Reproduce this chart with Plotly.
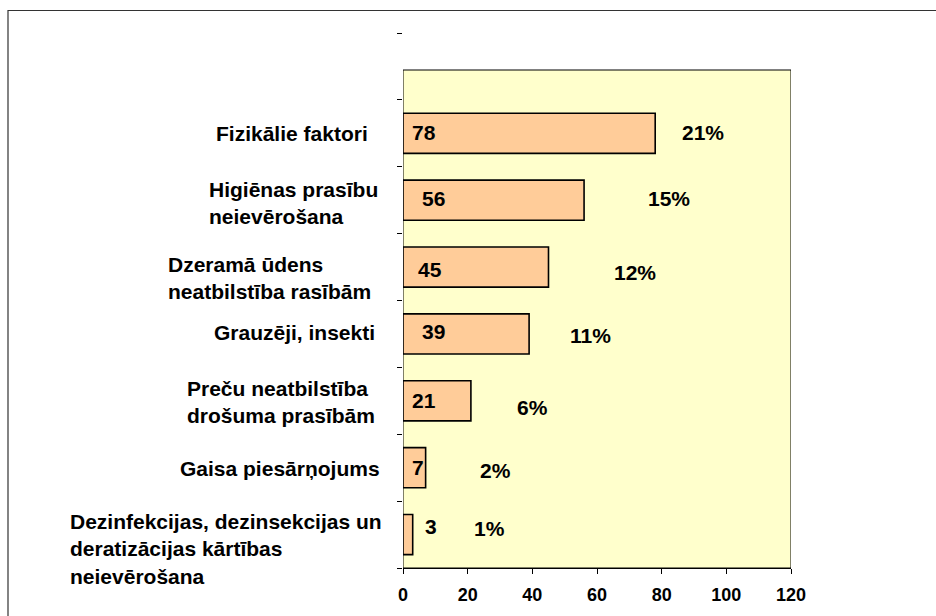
import plotly.graph_objects as go

# Data: counts per category (bottom to top) and their share of all cases
categories = [
    "Dezinfekcijas, dezinsekcijas un<br>deratizācijas kārtības<br>neievērošana",
    "Gaisa piesārņojums",
    "Preču neatbilstība<br>drošuma prasībām",
    "Grauzēji, insekti",
    "Dzeramā ūdens<br>neatbilstība rasībām",
    "Higiēnas prasību<br>neievērošana",
    "Fizikālie faktori",
]
counts = [3, 7, 21, 39, 45, 56, 78]
shares = [1, 2, 6, 11, 12, 15, 21]
x_ticks = [0, 20, 40, 60, 80, 100, 120]

# Page geometry (pixels)
W, H = 936, 616
PLOT_L, PLOT_R = 403, 791
PLOT_T, PLOT_B = 33, 568          # extent of the category axis (8 slots)
FRAME_T = 70                      # top of the shaded plot frame
X_MAX = 120
N_SLOTS = 8

px_per_unit = (PLOT_R - PLOT_L) / X_MAX
slot_px = (PLOT_B - PLOT_T) / N_SLOTS


def px_to_paper_x(px):
    return (px - PLOT_L) / (PLOT_R - PLOT_L)


def py_to_paper_y(py):
    return (PLOT_B - py) / (PLOT_B - PLOT_T)


def py_to_y(py):
    return -0.5 + (PLOT_B - py) / slot_px


# Label placement (left edge in px, vertical nudge in px)
cat_label_left = [68, 178, 185, 212, 166, 207, 214]
cat_label_shift = [-14, -1, -1, 1, -11, -3, 0]
count_label_x = [6.2, 2.2, 2.2, 5.3, 4.0, 5.3, 2.2]
count_label_shift = [8, 0, 0, 2, -2, 2, 1]
share_label_x = [21.3, 23.2, 34.6, 51.1, 64.6, 75.2, 85.8]
share_label_shift = [6, -3, -7, -2, -5, 2, 1]

FONT = "Arial, Liberation Sans, sans-serif"
LABEL_FONT = dict(family=FONT, size=21, color="#000000", weight="bold")
ypos = list(range(len(categories)))

fig = go.Figure()
fig.add_trace(go.Bar(
    x=counts, y=ypos, orientation="h", width=0.6,
    marker=dict(color="#FFCC99", line=dict(color="#000000", width=1.6)),
    hoverinfo="skip", showlegend=False,
))

shapes = [
    # shaded plot frame
    dict(type="rect", xref="x", yref="y", x0=0, x1=X_MAX, y0=-0.5, y1=py_to_y(FRAME_T),
         fillcolor="#FFFFCC", line=dict(color="#000000", width=1), layer="below"),
    # outer chart border
    dict(type="rect", xref="paper", yref="paper",
         x0=px_to_paper_x(8), x1=px_to_paper_x(W + 10),
         y0=py_to_paper_y(H + 10), y1=py_to_paper_y(10.5),
         line=dict(color="#333333", width=1.2), fillcolor="rgba(0,0,0,0)"),
]

annotations = []
for i, cat in enumerate(categories):
    annotations.append(dict(
        text=cat, xref="paper", yref="y", x=px_to_paper_x(cat_label_left[i]), y=i,
        yshift=cat_label_shift[i], xanchor="left", yanchor="middle", align="left",
        showarrow=False, font=LABEL_FONT,
    ))
    annotations.append(dict(
        text=str(counts[i]), xref="x", yref="y", x=count_label_x[i], y=i,
        yshift=count_label_shift[i], xanchor="left", yanchor="middle",
        showarrow=False, font=LABEL_FONT,
    ))
    annotations.append(dict(
        text=f"{shares[i]}%", xref="x", yref="y", x=share_label_x[i], y=i,
        yshift=share_label_shift[i], xanchor="left", yanchor="middle",
        showarrow=False, font=LABEL_FONT,
    ))

fig.update_layout(
    width=W, height=H,
    margin=dict(l=PLOT_L, r=W - PLOT_R, t=PLOT_T, b=H - PLOT_B, pad=0, autoexpand=False),
    paper_bgcolor="#FFFFFF", plot_bgcolor="rgba(0,0,0,0)",
    shapes=shapes, annotations=annotations, bargap=0.4,
    xaxis=dict(
        range=[0, X_MAX], tickvals=x_ticks, ticktext=[str(t) for t in x_ticks],
        showgrid=False, zeroline=False, showline=True, linecolor="#000000", linewidth=1,
        ticks="outside", ticklen=5, tickcolor="#000000", ticklabelstandoff=5,
        tickfont=dict(family=FONT, size=18, color="#000000", weight="bold"),
        fixedrange=True, automargin=False,
    ),
    yaxis=dict(
        range=[-0.5, N_SLOTS - 0.5],
        tickvals=[k - 0.5 for k in range(N_SLOTS + 1)],
        ticktext=[""] * (N_SLOTS + 1),
        showgrid=False, zeroline=False, showline=False,
        ticks="outside", ticklen=5, tickcolor="#000000", fixedrange=True,
        automargin=False,
    ),
)

fig.write_html("out.html")
